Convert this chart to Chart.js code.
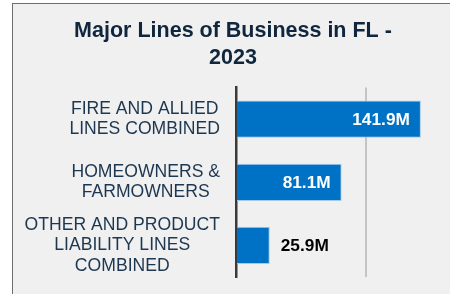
<!DOCTYPE html>
<html>
<head>
<meta charset="utf-8">
<script src="https://cdn.jsdelivr.net/npm/chart.js@4"></script>
<style>
  html, body { margin: 0; padding: 0; background: #fff; overflow: hidden; width: 450px; height: 294px; }
  #frame { position: absolute; left: 12px; top: 3px; width: 460px; height: 320px;
           background: #f0f0f0; border-left: 1.5px solid #6e6e6e; border-top: 1.5px solid #6e6e6e; }
  #wrap { position: absolute; left: 2px; top: 2px; width: 436px; height: 289px; }
</style>
</head>
<body>
<div id="frame"><div id="wrap"><canvas id="chart"></canvas></div></div>
<script>
const titleLines = ['Major Lines of Business in FL -', '2023']
const categories = [
    ['FIRE AND ALLIED', 'LINES COMBINED'],
    ['HOMEOWNERS &', 'FARMOWNERS'],
    ['OTHER AND PRODUCT', 'LIABILITY LINES', 'COMBINED']
]
const premiums = [141.9, 81.1, 25.9]   // millions
const valueLabels = ['141.9M', '81.1M', '25.9M']

const labelColor = '#1d3750'
const barColor = '#0072c6'

// category labels: each block right aligned, lines centred inside it
const catLabels = {
    id: 'catLabels',
    afterDraw(chart) {
        const ctx = chart.ctx
        const y = chart.scales.y
        ctx.save()
        ctx.font = '17.6px "Liberation Sans", Arial, sans-serif'
        ctx.fillStyle = labelColor
        ctx.textAlign = 'center'
        ctx.textBaseline = 'middle'
        const right = y.right - 16
        const lh = 20.3
        categories.forEach((lines, i) => {
            const w = Math.max(...lines.map(l => ctx.measureText(l).width))
            const cx = right - w / 2
            const cy = y.getPixelForValue(i)
            lines.forEach((l, j) => {
                ctx.fillText(l, cx, cy + (j - (lines.length - 1) / 2) * lh)
            })
        })
        ctx.restore()
    }
}

// value labels at bar end, inside when they fit
const valLabels = {
    id: 'valLabels',
    afterDatasetsDraw(chart) {
        const ctx = chart.ctx
        const meta = chart.getDatasetMeta(0)
        ctx.save()
        ctx.font = 'bold 17.3px "Liberation Sans", Arial, sans-serif'
        ctx.textBaseline = 'middle'
        meta.data.forEach((bar, i) => {
            const txt = valueLabels[i]
            const w = ctx.measureText(txt).width
            if (bar.x - bar.base > w + 20) {
                ctx.fillStyle = '#ffffff'
                ctx.textAlign = 'right'
                ctx.fillText(txt, bar.x - 11, bar.y + 1)
            } else {
                ctx.fillStyle = '#000000'
                ctx.textAlign = 'left'
                ctx.fillText(txt, bar.x + 11, bar.y + 1)
            }
        })
        ctx.restore()
    }
}

new Chart(document.getElementById('chart'), {
    type: 'bar',
    data: {
        labels: categories,
        datasets: [{
            data: premiums,
            backgroundColor: barColor,
            borderColor: '#a6c9e8',
            borderWidth: 1,
            categoryPercentage: 1,
            barPercentage: 0.59
        }]
    },
    options: {
        indexAxis: 'y',
        responsive: true,
        maintainAspectRatio: false,
        animation: false,
        layout: { padding: { top: 0, bottom: 18, left: 0, right: 0 } },
        plugins: {
            legend: { display: false },
            tooltip: { enabled: false },
            title: {
                display: true,
                text: titleLines,
                color: '#10263d',
                font: { family: '"Liberation Sans", Arial, sans-serif', size: 21.5, weight: 'bold', lineHeight: 1.27 },
                padding: { top: 11, bottom: 16 }
            }
        },
        scales: {
            x: {
                min: 0,
                max: 165,
                ticks: { display: false, stepSize: 100 },
                grid: { color: '#c4c4c4', lineWidth: 2, drawTicks: false },
                border: { display: false }
            },
            y: {
                ticks: { display: false },
                grid: { display: false, drawTicks: false },
                border: { display: true, color: '#3a3a3a', width: 2.5 },
                afterFit(s) { s.width = 221 }
            }
        }
    },
    plugins: [catLabels, valLabels]
})
</script>
</body>
</html>
